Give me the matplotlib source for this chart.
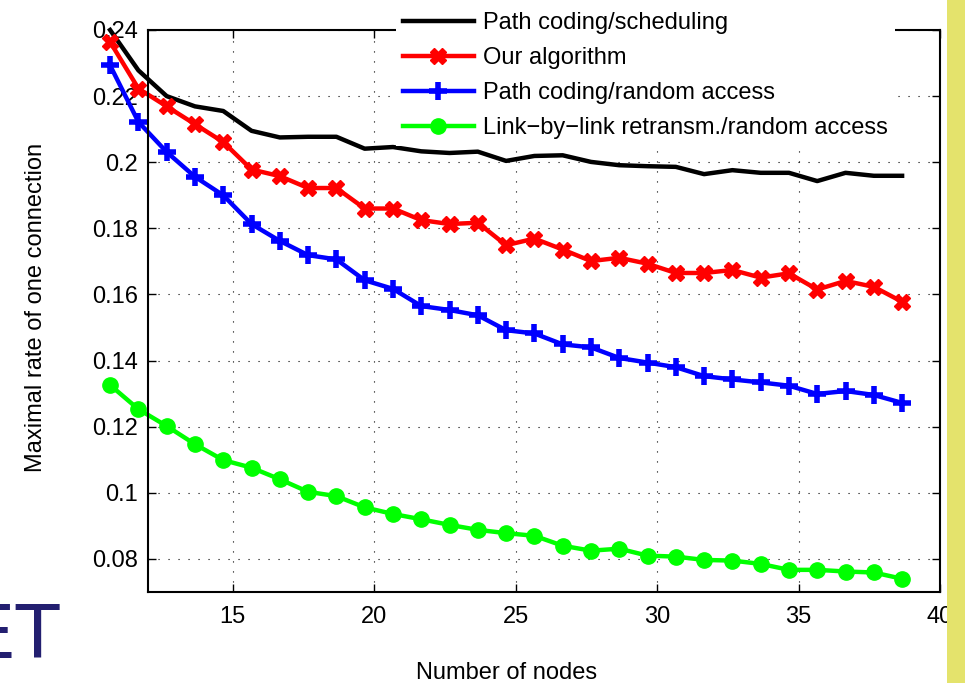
import matplotlib
matplotlib.use("Agg")
import matplotlib.pyplot as plt
from matplotlib.patches import Rectangle
from matplotlib.ticker import FuncFormatter
import numpy as np

plt.rcParams["font.family"] = ["Liberation Sans", "DejaVu Sans"]

# number of nodes (points sit a bit left of the integer ticks in the original)
nodes = np.arange(29) + 10.66

path_sched = [0.2400, 0.2278, 0.2200, 0.2169, 0.2155, 0.2095, 0.2075, 0.2077,
              0.2077, 0.2041, 0.2046, 0.2033, 0.2028, 0.2032, 0.2004, 0.2019,
              0.2021, 0.2001, 0.1991, 0.1988, 0.1986, 0.1964, 0.1976, 0.1968,
              0.1968, 0.1943, 0.1968, 0.1959, 0.1959]
our_algo = [0.2364, 0.2223, 0.2169, 0.2115, 0.2061, 0.1978, 0.1958, 0.1922,
            0.1922, 0.1860, 0.1860, 0.1825, 0.1813, 0.1817, 0.1749, 0.1769,
            0.1736, 0.1701, 0.1711, 0.1693, 0.1665, 0.1665, 0.1674, 0.1651,
            0.1664, 0.1615, 0.1641, 0.1623, 0.1578]
path_random = [0.2293, 0.2122, 0.2031, 0.1956, 0.1900, 0.1813, 0.1762, 0.1719,
               0.1706, 0.1643, 0.1617, 0.1565, 0.1553, 0.1537, 0.1492, 0.1482,
               0.1449, 0.1440, 0.1408, 0.1394, 0.1380, 0.1353, 0.1343, 0.1334,
               0.1324, 0.1299, 0.1308, 0.1296, 0.1272]
link_random = [0.1326, 0.1253, 0.1202, 0.1147, 0.1099, 0.1076, 0.1041, 0.1003,
               0.0990, 0.0956, 0.0936, 0.0920, 0.0903, 0.0888, 0.0878, 0.0870,
               0.0840, 0.0825, 0.0831, 0.0810, 0.0807, 0.0797, 0.0795, 0.0785,
               0.0767, 0.0767, 0.0762, 0.0759, 0.0740]

labels = ["Path coding/scheduling", "Our algorithm",
          "Path coding/random access",
          "Link\u2212by\u2212link retransm./random access"]

fs = 17
fig = plt.figure(figsize=(9.65, 6.83), dpi=100)

# yellow strip on the right edge of the slide
fig.patches.append(Rectangle((947 / 965, 0), 18 / 965, 1, transform=fig.transFigure,
                             facecolor="#e4e36c", edgecolor="none", zorder=0))
# bit of a logo cut off at bottom left
fig.text(62 / 965, 1 - 658 / 683, "ET", color="#231f70", fontsize=56,
         ha="right", va="baseline")

ax = fig.add_axes([148 / 965, 1 - 592 / 683, 792 / 965, 562 / 683])
ax.patch.set_alpha(0)

lw = 3.2
ax.plot(nodes, path_sched, color="black", lw=lw, clip_on=False, label=labels[0])
ax.plot(nodes, our_algo, color="red", lw=lw, marker="X", ms=11, mew=1,
        clip_on=False, label=labels[1])
ax.plot(nodes, path_random, color="blue", lw=lw, marker="+", ms=13, mew=4,
        clip_on=False, label=labels[2])
ax.plot(nodes, link_random, color="#00ff00", lw=lw, marker="o", ms=11,
        clip_on=False, label=labels[3])

ax.set_xlim(12, 40)
ax.set_ylim(0.07, 0.24)
ax.set_xticks([15, 20, 25, 30, 35, 40])
ax.set_yticks(np.arange(0.08, 0.2401, 0.02))
ax.yaxis.set_major_formatter(FuncFormatter(lambda v, p: "%g" % round(v, 3)))
ax.tick_params(direction="in", length=6, width=1, labelsize=fs,
               top=True, right=True, pad=7)
ax.tick_params(axis="x", pad=10)
ax.grid(True, linestyle=(0, (1, 8)), color="black", lw=0.8)
for s in ax.spines.values():
    s.set_linewidth(1.5)

ax.set_xlabel("Number of nodes", fontsize=fs)
ax.xaxis.set_label_coords((507 - 148) / 792, -(673 - 592) / 562)
ax.xaxis.label.set_va("center")
ax.set_ylabel("Maximal rate of one connection", fontsize=fs)
ax.yaxis.set_label_coords((36 - 148) / 792, (592 - 307) / 562)
ax.yaxis.label.set_va("center")

leg = fig.legend(loc="upper left", bbox_to_anchor=(384 / 965, 1 + 7 / 683),
                 fontsize=fs, frameon=True, facecolor="white", edgecolor="none",
                 framealpha=1, fancybox=False, handlelength=3.0,
                 handletextpad=0.4, labelspacing=0.55, borderpad=0.3,
                 numpoints=1)
leg.set_zorder(10)

fig.savefig("out.png", dpi=100)
